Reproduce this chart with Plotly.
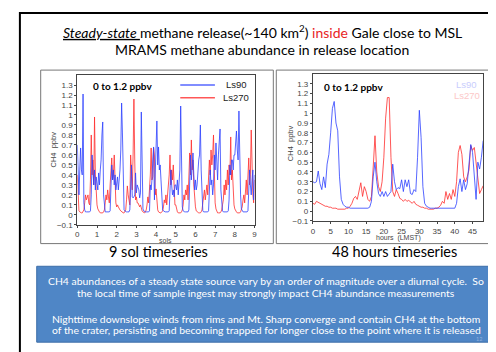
import numpy as np
import plotly.graph_objects as go

W, H = 496, 352

# ---------------- data: 9 sol timeseries (hourly values, per sol) ----------------
blue_s0 = [0.70, 0.25, 0.20, 0.45, 0.67, 0.45, 0.40, 1.21, 0.12, 0.05, 0.03, 0.03, 0.03, 0.03, 0.03, 0.03, 0.04, 0.20, 0.60, 0.35, 0.30, 0.45, 0.25, 0.38]
blue_s1 = [0.30, 0.25, 0.42, 0.30, 0.45, 0.55, 0.80, 0.93, 0.20, 0.05, 0.03, 0.03, 0.03, 0.03, 0.03, 0.03, 0.04, 0.25, 0.50, 0.35, 0.45, 0.30, 0.40, 0.25]
blue_s2 = [0.30, 0.38, 0.25, 0.32, 0.45, 0.65, 1.12, 0.82, 0.15, 0.05, 0.04, 0.03, 0.03, 0.03, 0.03, 0.03, 0.05, 0.35, 0.50, 0.18, 0.17, 0.18, 0.20, 0.42]
blue_s3 = [0.22, 0.30, 0.27, 0.25, 0.17, 0.22, 1.03, 0.45, 0.06, 0.04, 0.03, 0.03, 0.03, 0.03, 0.03, 0.03, 0.04, 0.30, 0.25, 0.35, 0.55, 0.68, 0.15, 0.50]
blue_s4 = [0.72, 0.94, 0.50, 0.68, 0.45, 0.50, 0.35, 0.15, 0.05, 0.04, 0.03, 0.03, 0.03, 0.03, 0.03, 0.03, 0.04, 0.20, 0.45, 0.30, 0.20, 0.25, 0.18, 0.30]
blue_s5 = [0.30, 0.25, 0.35, 0.20, 0.30, 0.45, 1.09, 0.40, 0.08, 0.04, 0.03, 0.03, 0.03, 0.03, 0.03, 0.03, 0.05, 0.40, 0.60, 0.35, 0.55, 0.62, 0.40, 0.25]
blue_s6 = [0.35, 0.25, 0.30, 0.45, 0.55, 0.60, 0.90, 0.45, 0.10, 0.04, 0.03, 0.03, 0.03, 0.03, 0.03, 0.03, 0.04, 0.20, 0.45, 0.30, 0.35, 0.20, 0.30, 0.60]
blue_s7 = [0.45, 0.72, 0.55, 0.35, 0.60, 0.83, 0.86, 0.25, 0.06, 0.04, 0.03, 0.03, 0.03, 0.03, 0.03, 0.03, 0.04, 0.15, 0.50, 0.40, 0.55, 0.55, 0.45, 0.60]
blue_s8 = [0.60, 0.75, 0.84, 0.65, 0.55, 1.04, 0.50, 0.20, 0.06, 0.04, 0.03, 0.03, 0.03, 0.03, 0.03, 0.03, 0.04, 0.25, 0.45, 0.30, 0.20, 0.35, 0.45, 0.15]
blue_end = [0.40]

red_s0 = [0.40, 0.08, 0.04, 0.03, 0.02, 0.02, 0.02, 0.03, 0.05, 0.12, 0.20, 0.15, 0.18, 0.20, 0.12, 0.10, 0.35, 0.80, 0.40, 0.55, 0.30, 0.98, 0.40, 0.15]
red_s1 = [0.10, 0.06, 0.04, 0.03, 0.02, 0.02, 0.02, 0.02, 0.03, 0.05, 0.12, 0.20, 0.15, 0.25, 0.18, 0.12, 0.30, 0.45, 0.57, 0.35, 0.40, 0.60, 0.35, 0.12]
red_s2 = [0.08, 0.10, 0.08, 0.06, 0.05, 0.04, 0.03, 0.03, 0.02, 0.02, 0.03, 0.05, 0.15, 0.29, 0.20, 0.15, 0.10, 0.60, 0.35, 0.25, 0.60, 1.16, 0.55, 0.15]
red_s3 = [0.18, 0.12, 0.12, 0.10, 0.08, 0.10, 0.06, 0.04, 0.03, 0.02, 0.02, 0.03, 0.05, 0.10, 0.18, 0.12, 0.22, 0.40, 0.67, 0.35, 0.38, 0.67, 0.60, 0.20]
red_s4 = [0.26, 0.10, 0.05, 0.03, 0.02, 0.02, 0.02, 0.03, 0.04, 0.08, 0.15, 0.12, 0.20, 0.10, 0.18, 0.25, 0.40, 0.60, 0.30, 0.45, 0.35, 0.50, 0.25, 0.10]
red_s5 = [0.10, 0.05, 0.03, 0.02, 0.02, 0.02, 0.02, 0.03, 0.05, 0.10, 0.20, 0.15, 0.25, 0.20, 0.30, 0.15, 0.35, 0.62, 0.40, 0.75, 0.45, 0.55, 0.30, 0.10]
red_s6 = [0.08, 0.04, 0.03, 0.02, 0.02, 0.02, 0.02, 0.03, 0.05, 0.12, 0.18, 0.25, 0.15, 0.22, 0.30, 0.20, 0.35, 0.55, 0.40, 0.65, 0.50, 0.60, 0.80, 0.30]
red_s7 = [0.12, 0.06, 0.03, 0.02, 0.02, 0.02, 0.02, 0.03, 0.05, 0.10, 0.15, 0.30, 0.20, 0.35, 0.25, 0.45, 0.30, 0.50, 0.40, 0.78, 0.35, 0.45, 0.25, 0.10]
red_s8 = [0.06, 0.04, 0.03, 0.02, 0.02, 0.02, 0.02, 0.03, 0.05, 0.08, 0.15, 0.20, 0.12, 0.25, 0.35, 0.20, 0.45, 0.57, 0.30, 0.40, 0.85, 0.30, 0.20, 0.12]
red_end = [0.35]

# ---------------- data: 48 hour timeseries (half-hourly) ----------------
blue48 = [0.30, 0.29, 0.30, 0.41, 0.28, 0.22, 0.35, 0.24, 0.48, 0.58, 0.80, 1.05, 1.12, 0.90,
          0.82, 0.35, 0.12, 0.07, 0.05, 0.04, 0.04, 0.03, 0.03, 0.03, 0.03, 0.03, 0.03, 0.03,
          0.03, 0.03, 0.03, 0.03, 0.04, 0.10, 0.35, 0.50, 0.30, 0.18, 0.15, 0.20, 0.15, 0.20,
          0.15, 0.18, 0.20, 0.48, 0.30, 0.22, 0.24, 0.23, 0.32, 0.20, 0.32, 0.25, 0.32, 0.18,
          0.17, 0.22, 0.20, 0.55, 1.03, 0.75, 0.25, 0.08, 0.05, 0.04, 0.03, 0.03, 0.03, 0.03,
          0.03, 0.03, 0.03, 0.03, 0.03, 0.03, 0.03, 0.03, 0.03, 0.03, 0.03, 0.08, 0.25, 0.33,
          0.20, 0.32, 0.22, 0.28, 0.45, 0.68, 0.60, 0.40, 0.12, 0.50, 0.43, 0.55, 0.72]
red48 = [0.08, 0.07, 0.10, 0.09, 0.08, 0.07, 0.06, 0.05, 0.05, 0.04, 0.04, 0.03, 0.03, 0.03,
         0.02, 0.02, 0.02, 0.02, 0.02, 0.03, 0.03, 0.05, 0.08, 0.13, 0.15, 0.12, 0.22, 0.29,
         0.15, 0.25, 0.20, 0.12, 0.10, 0.15, 0.45, 0.77, 0.40, 0.25, 0.20, 0.30, 0.55, 0.95,
         1.16, 1.16, 0.55, 0.20, 0.15, 0.22, 0.18, 0.13, 0.12, 0.10, 0.12, 0.10, 0.11, 0.09,
         0.08, 0.10, 0.07, 0.06, 0.05, 0.04, 0.04, 0.03, 0.03, 0.02, 0.02, 0.02, 0.02, 0.03,
         0.03, 0.04, 0.06, 0.10, 0.08, 0.20, 0.12, 0.18, 0.12, 0.22, 0.15, 0.30, 0.60, 0.67,
         0.58, 0.35, 0.30, 0.35, 0.42, 0.67, 0.62, 0.65, 0.50, 0.30, 0.18, 0.22, 0.26]

sol_ticks = [0, 1, 2, 3, 4, 5, 6, 7, 8, 9]
hour_ticks = [0, 5, 10, 15, 20, 25, 30, 35, 40, 45]
y_ticks = [-0.1, 0, 0.1, 0.2, 0.3, 0.4, 0.5, 0.6, 0.7, 0.8, 0.9, 1.0, 1.1, 1.2, 1.3]

blue9 = blue_s0 + blue_s1 + blue_s2 + blue_s3 + blue_s4 + blue_s5 + blue_s6 + blue_s7 + blue_s8 + blue_end
red9 = red_s0 + red_s1 + red_s2 + red_s3 + red_s4 + red_s5 + red_s6 + red_s7 + red_s8 + red_end
sols_b = np.arange(len(blue9)) / 24.0
sols_r = np.arange(len(red9)) / 24.0
hrs_b = np.arange(len(blue48)) * 0.5
hrs_r = np.arange(len(red48)) * 0.5

BLUE = "rgba(45,65,255,0.8)"
RED = "rgba(255,45,45,0.8)"


def px(x):
    return x / W


def py(y):
    return 1 - y / H


fig = go.Figure()
fig.add_trace(go.Scatter(x=sols_r, y=red9, mode="lines", line=dict(color=RED, width=1), xaxis="x", yaxis="y"))
fig.add_trace(go.Scatter(x=sols_b, y=blue9, mode="lines", line=dict(color=BLUE, width=1), xaxis="x", yaxis="y"))
fig.add_trace(go.Scatter(x=hrs_r, y=red48, mode="lines", line=dict(color=RED, width=1), xaxis="x2", yaxis="y2"))
fig.add_trace(go.Scatter(x=hrs_b, y=blue48, mode="lines", line=dict(color=BLUE, width=1), xaxis="x2", yaxis="y2"))

tickfont = dict(family="Liberation Sans", size=8, color="#444")
axcommon = dict(showgrid=False, zeroline=False, showline=True, linecolor="#444", linewidth=1,
                mirror=True, ticks="outside", ticklen=2, tickcolor="#444", tickfont=tickfont)

fig.update_layout(
    width=W, height=H, margin=dict(l=0, r=0, t=0, b=0),
    paper_bgcolor="white", plot_bgcolor="white", showlegend=False,
    xaxis=dict(domain=[px(68), px(247)], range=[0, 9], tickvals=sol_ticks, anchor="y", **axcommon),
    yaxis=dict(domain=[py(220), py(68)], range=[-0.1, 1.4], tickvals=y_ticks, anchor="x", **axcommon),
    xaxis2=dict(domain=[px(306), px(478)], range=[0, 48], tickvals=hour_ticks, anchor="y2", **axcommon),
    yaxis2=dict(domain=[py(216), py(67)], range=[-0.1, 1.4], tickvals=y_ticks, anchor="x2", **axcommon),
)

shapes = []
# slide frame
shapes.append(dict(type="rect", xref="paper", yref="paper", x0=px(10), x1=px(500), y0=py(350), y1=py(5),
                   line=dict(color="black", width=2)))
# panel frames
for (a, b) in [(31, 266), (269, 488)]:
    shapes.append(dict(type="rect", xref="paper", yref="paper", x0=px(a), x1=px(b), y0=py(239), y1=py(63),
                       line=dict(color="#777", width=1)))
# text box
shapes.append(dict(type="rect", xref="paper", yref="paper", x0=px(27), x1=px(492), y0=py(339), y1=py(262),
                   fillcolor="#4f86c6", line=dict(color="#3d6ea8", width=1), layer="below"))
# legend samples (left panel)
shapes.append(dict(type="line", xref="paper", yref="paper", x0=px(172), x1=px(207), y0=py(78), y1=py(78),
                   line=dict(color=BLUE, width=1.5)))
shapes.append(dict(type="line", xref="paper", yref="paper", x0=px(172), x1=px(207), y0=py(91), y1=py(91),
                   line=dict(color=RED, width=1.5)))
fig.update_layout(shapes=shapes)

SF = "Lato"
ann = []


def add(text, x, y, size, color="black", xanchor="center", family=SF, **kw):
    ann.append(dict(text=text, x=px(x), y=py(y), xref="paper", yref="paper", showarrow=False,
                    xanchor=xanchor, yanchor="middle", font=dict(family=family, size=size, color=color), **kw))


add("<i><u>Steady-state </u></i>methane release(~140 km<sup>2</sup>) <span style='color:#e8251f'>inside</span> Gale close to MSL",
    255, 24, 14)
add("MRAMS methane abundance in release location", 255, 42, 14)
add("<b>0 to 1.2 ppbv</b>", 82, 79, 10, xanchor="left")
add("<b>0 to 1.2 ppbv</b>", 315, 80, 10, xanchor="left")
add("Ls90", 216, 78, 9.5, color="#222", xanchor="left", family="Liberation Sans")
add("Ls270", 213, 91, 9.5, color="#222", xanchor="left", family="Liberation Sans")
add("Ls90", 449, 78, 9.5, color="#c9cdfd", xanchor="left", family="Liberation Sans")
add("Ls270", 446, 89, 9.5, color="#fcc8c8", xanchor="left", family="Liberation Sans")
add("CH4  ppbv", 44, 144, 7.5, color="#444", family="Liberation Sans", textangle=-90)
add("CH4  ppbv", 283, 137, 7.5, color="#444", family="Liberation Sans", textangle=-90)
add("sols", 157, 236, 7, color="#444", family="Liberation Sans")
add("hours  (LMST)", 392, 233, 7, color="#444", family="Liberation Sans")
add("9 sol timeseries", 150, 247, 14.5)
add("48 hours timeseries", 388, 247, 14.5)
add("CH4 abundances of a steady state source vary by an order of magnitude over a diurnal cycle.  So", 259, 277, 10.4, color="white")
add("the local time of sample ingest may strongly impact CH4 abundance measurements", 259, 289, 10.4, color="white")
add("Nighttime downslope winds from rims and Mt. Sharp converge and contain CH4 at the bottom", 259, 315, 10.4, color="white")
add("of the crater, persisting and becoming trapped for longer close to the point where it is released", 259, 327, 10.4, color="white")
add("12", 474, 336, 5.5, color="#8fb0dc")
fig.update_layout(annotations=ann)

fig.write_html("out.html")
